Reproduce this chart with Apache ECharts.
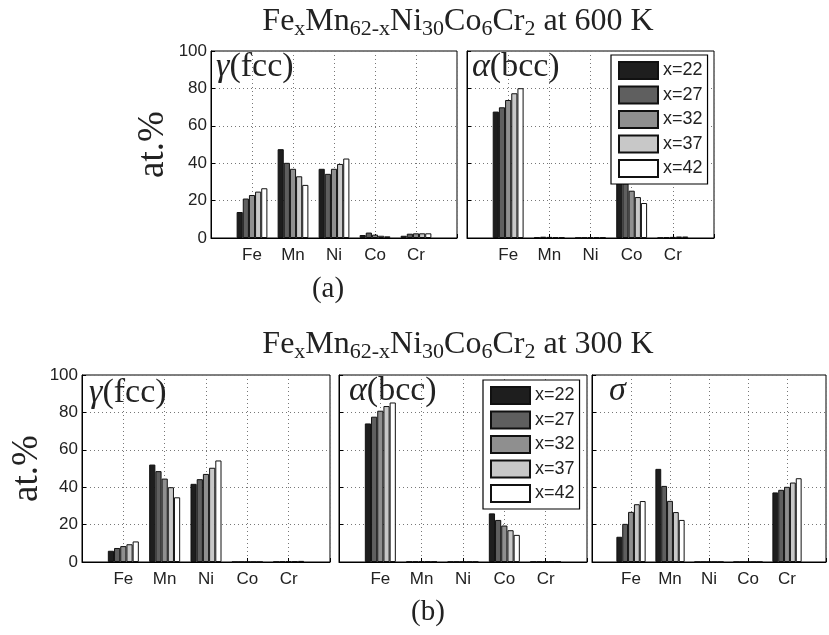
<!DOCTYPE html>
<html>
<head>
<meta charset="utf-8">
<script src="https://cdn.jsdelivr.net/npm/echarts@6/dist/echarts.min.js"></script>
<style>
  html, body { margin: 0; padding: 0; background: #fff; }
  #main { width: 829px; height: 635px; }
</style>
</head>
<body>
<div id="main"></div>
<script>
var elements = ['Fe', 'Mn', 'Ni', 'Co', 'Cr'];
var compositions = ['x=22', 'x=27', 'x=32', 'x=37', 'x=42'];

// rows: x=22 .. x=42, columns: Fe Mn Ni Co Cr (at.%)
var fcc600 = [
  [13.9, 47.5, 37.0, 1.6, 1.2],
  [21.1, 40.2, 34.3, 2.9, 2.3],
  [23.0, 37.0, 37.0, 1.8, 2.5],
  [24.8, 33.0, 39.6, 1.2, 2.5],
  [26.6, 28.4, 42.5, 0.9, 2.5]
];
var bcc600 = [
  [67.6, 0.5, 0.2, 32.6, 0.2],
  [69.9, 0.7, 0.3, 29.2, 0.5],
  [73.8, 0.6, 0.4, 25.3, 0.6],
  [77.4, 0.5, 0.5, 21.9, 0.8],
  [80.1, 0.4, 0.5, 18.7, 0.8]
];
var fcc300 = [
  [6.0, 52.1, 41.8, 0.1, 0.2],
  [7.5, 48.6, 44.3, 0.1, 0.3],
  [8.5, 44.6, 47.1, 0.1, 0.4],
  [9.5, 40.0, 50.4, 0.1, 0.5],
  [11.0, 34.6, 54.3, 0.1, 0.6]
];
var bcc300 = [
  [74.1, 0.3, 0.2, 26.0, 0.2],
  [77.7, 0.3, 0.2, 22.5, 0.2],
  [80.9, 0.3, 0.2, 19.5, 0.2],
  [83.4, 0.3, 0.2, 17.0, 0.2],
  [85.3, 0.3, 0.2, 14.5, 0.2]
];
var sigma300 = [
  [13.5, 49.8, 0.1, 0.1, 37.2],
  [20.4, 40.7, 0.1, 0.1, 38.6],
  [26.8, 32.7, 0.1, 0.1, 40.2],
  [30.9, 26.7, 0.1, 0.1, 42.5],
  [32.6, 22.5, 0.1, 0.1, 44.8]
];

var barColors = ['#1e1e1e', '#5f5f5f', '#8f8f8f', '#c8c8c8', '#ffffff'];
var serif = 'Liberation Serif';
var sans = 'Liberation Sans';

var panels = [
  { grid: { left: 211, top: 51, width: 246, height: 187 }, data: fcc600, yLabels: true, nameGap: 39 },
  { grid: { left: 467, top: 51, width: 247, height: 187 }, data: bcc600, yLabels: false },
  { grid: { left: 82, top: 375, width: 248, height: 187 }, data: fcc300, yLabels: true, nameGap: 32 },
  { grid: { left: 339, top: 375, width: 248, height: 187 }, data: bcc300, yLabels: false },
  { grid: { left: 592, top: 375, width: 248, height: 187 }, data: sigma300, yLabels: false }
];

var grids = [], xAxes = [], yAxes = [], series = [];
var gridLine = { show: true, lineStyle: { color: '#777', width: 1, type: [1, 3] } };

panels.forEach(function (p, i) {
  grids.push(Object.assign({ show: true, borderColor: '#000', borderWidth: 1, backgroundColor: '#fff' }, p.grid));
  xAxes.push({
    gridIndex: i,
    type: 'category',
    boundaryGap: false,
    data: [''].concat(elements, ['']),
    axisLine: { lineStyle: { color: '#000', width: 1 } },
    axisTick: { inside: true, length: 4, lineStyle: { color: '#000' } },
    axisLabel: { interval: 0, fontFamily: sans, fontSize: 17, color: '#222', margin: 9 },
    splitLine: gridLine
  });
  yAxes.push({
    gridIndex: i,
    type: 'value',
    min: 0, max: 100, interval: 20,
    axisLine: { show: true, lineStyle: { color: '#000', width: 1 } },
    axisTick: { show: true, inside: true, length: 4, lineStyle: { color: '#000' } },
    axisLabel: { show: p.yLabels, fontFamily: sans, fontSize: 17, color: '#222', margin: 4 },
    splitLine: gridLine,
    name: p.yLabels ? 'at.%' : '',
    nameLocation: 'middle',
    nameGap: p.nameGap || 0,
    nameRotate: 90,
    nameTextStyle: { fontFamily: serif, fontSize: 37, color: '#222' }
  });
  p.data.forEach(function (row, k) {
    series.push({
      name: compositions[k],
      type: 'bar',
      xAxisIndex: i,
      yAxisIndex: i,
      barGap: '0%',
      barCategoryGap: '25%',
      itemStyle: { color: barColors[k], borderColor: '#111', borderWidth: 1 },
      emphasis: { disabled: true },
      data: ['-'].concat(row, ['-'])
    });
  });
});

function formula(temp) {
  return '{n|Fe}{s|x}{n|Mn}{s|62-x}{n|Ni}{s|30}{n|Co}{s|6}{n|Cr}{s|2}{n| at ' + temp + ' K}';
}
var titleRich = {
  n: { fontFamily: serif, fontSize: 32, fontWeight: 'normal', color: '#222' },
  s: { fontFamily: serif, fontSize: 22, fontWeight: 'normal', color: '#222', padding: [15, 0, 0, 0] }
};
var labelRich = {
  g: { fontFamily: serif, fontSize: 34, fontWeight: 'normal', fontStyle: 'italic', color: '#222' },
  n: { fontFamily: serif, fontSize: 34, fontWeight: 'normal', color: '#222' }
};
var plainTitle = { fontFamily: serif, fontSize: 29, fontWeight: 'normal', color: '#222' };

var titles = [
  { text: formula(600), left: 458, top: 3, textAlign: 'center', padding: 0, textStyle: { fontWeight: 'normal', rich: titleRich } },
  { text: formula(300), left: 458, top: 326, textAlign: 'center', padding: 0, textStyle: { fontWeight: 'normal', rich: titleRich } },
  { text: '(a)', left: 328, top: 275, textAlign: 'center', padding: 0, textStyle: plainTitle },
  { text: '(b)', left: 428, top: 598, textAlign: 'center', padding: 0, textStyle: plainTitle },
  { text: '{g|γ}{n|(fcc)}', left: 216, top: 50, padding: 0, textStyle: { fontWeight: 'normal', rich: labelRich } },
  { text: '{g|α}{n|(bcc)}', left: 472, top: 50, padding: 0, textStyle: { fontWeight: 'normal', rich: labelRich } },
  { text: '{g|γ}{n|(fcc)}', left: 89, top: 376, padding: 0, textStyle: { fontWeight: 'normal', rich: labelRich } },
  { text: '{g|α}{n|(bcc)}', left: 349, top: 374, padding: 0, textStyle: { fontWeight: 'normal', rich: labelRich } },
  { text: '{g|σ}', left: 609, top: 374, padding: 0, textStyle: { fontWeight: 'normal', rich: labelRich } }
];

var legendBase = {
  orient: 'vertical',
  data: compositions,
  icon: 'rect',
  itemWidth: 39,
  itemHeight: 17,
  itemGap: 5.5,
  padding: [6, 5, 6, 7],
  borderColor: '#000',
  borderWidth: 1.2,
  backgroundColor: '#fff',
  selectedMode: false,
  z: 10,
  textStyle: { fontFamily: sans, fontSize: 18, color: '#222' }
};

var chart = echarts.init(document.getElementById('main'), null, { renderer: 'canvas' });
chart.setOption({
  backgroundColor: '#fff',
  animation: false,
  title: titles,
  legend: [
    Object.assign({ left: 611, top: 55 }, legendBase),
    Object.assign({ left: 483, top: 380 }, legendBase)
  ],
  grid: grids,
  xAxis: xAxes,
  yAxis: yAxes,
  series: series
});
</script>
</body>
</html>
